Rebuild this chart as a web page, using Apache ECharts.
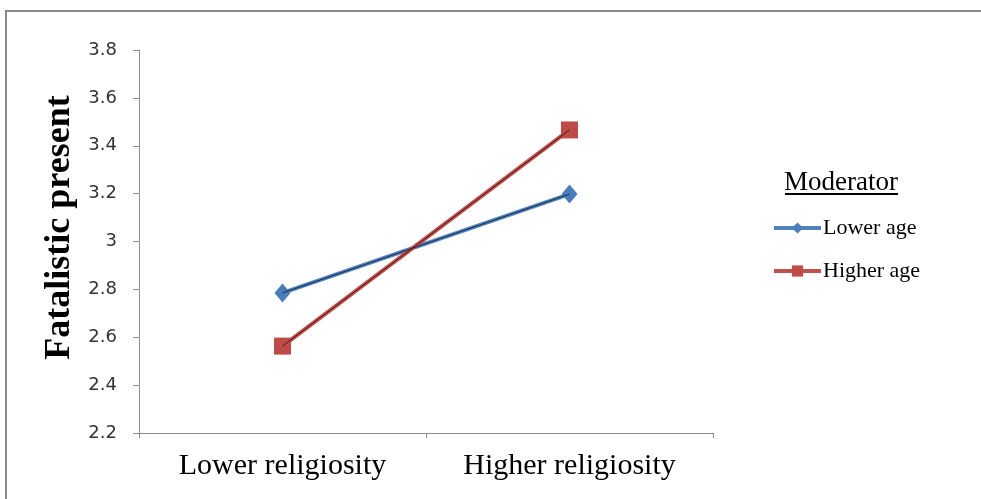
<!DOCTYPE html>
<html><head><meta charset="utf-8">
<script src="https://cdn.jsdelivr.net/npm/echarts@6/dist/echarts.min.js"></script>
<style>html,body{margin:0;padding:0;background:#fff}#c{width:981px;height:499px}</style>
</head><body><div id="c"></div>
<script>
const categories = ['Lower religiosity', 'Higher religiosity'];
const lowerAge = [2.785, 3.198];
const higherAge = [2.563, 3.466];
const seriesNames = ['Lower age', 'Higher age'];
const yTicks = {min: 2.2, max: 3.8, interval: 0.2};

const chart = echarts.init(document.getElementById('c'), null, {renderer: 'canvas'});
const serif = '"Liberation Serif", "Times New Roman", serif';
const sans = '"DejaVu Sans", Tahoma, sans-serif';
chart.setOption({
  animation: false,
  backgroundColor: '#fff',
  grid: {left: 139, right: 268, top: 50, bottom: 66, containLabel: false},
  xAxis: {
    type: 'category', data: categories, boundaryGap: true,
    axisLine: {lineStyle: {color: '#8c8c8c', width: 1}},
    axisTick: {show: true, length: 5, lineStyle: {color: '#8c8c8c'}},
    axisLabel: {fontFamily: serif, fontSize: 30, color: '#000', margin: 18}
  },
  yAxis: {
    type: 'value', min: yTicks.min, max: yTicks.max, interval: yTicks.interval,
    name: 'Fatalistic present', nameLocation: 'middle', nameGap: 60, nameRotate: 90,
    nameTextStyle: {fontFamily: serif, fontSize: 36, fontWeight: 'bold', color: '#000', padding: [0, 0, 0, 28]},
    splitLine: {show: false},
    axisLine: {show: true, lineStyle: {color: '#8c8c8c', width: 1}},
    axisTick: {show: true, length: 6, lineStyle: {color: '#8c8c8c'}},
    axisLabel: {fontFamily: sans, fontSize: 18, color: '#333', margin: 22,
      formatter: v => (Math.round(v * 10) / 10).toString()}
  },
  legend: {
    orient: 'vertical', left: 772, top: 217, padding: 0, itemWidth: 47, itemHeight: 14, itemGap: 21,
    data: seriesNames.map(n => ({name: n, lineStyle: {width: 4}})),
    textStyle: {fontFamily: serif, fontSize: 22, color: '#000', padding: [0, 0, 0, -3]}
  },
  series: [
    {name: seriesNames[0], type: 'line', data: lowerAge, symbol: 'diamond', symbolSize: [16, 19],
     lineStyle: {color: '#4F81BD', width: 4}, itemStyle: {color: '#4A7EBB'}, z: 3},
    {name: seriesNames[1], type: 'line', data: higherAge, symbol: 'rect', symbolSize: 17,
     lineStyle: {color: '#C0504D', width: 4}, itemStyle: {color: '#BE4B48'}, z: 3},
    {name: 'trend1', type: 'line', data: lowerAge, symbol: 'none', silent: true,
     lineStyle: {color: '#15233a', width: 0.9}, z: 4},
    {name: 'trend2', type: 'line', data: higherAge, symbol: 'none', silent: true,
     lineStyle: {color: '#3a1210', width: 0.9}, z: 4}
  ],
  graphic: [
    {type: 'rect', shape: {x: 6, y: 11, width: 1000, height: 600}, style: {fill: 'none', stroke: '#8a8a8a', lineWidth: 2}, z: -1},
    {type: 'text', left: 784, top: 169, style: {text: 'Moderator', font: '27px ' + serif, fill: '#000'}},
    {type: 'rect', shape: {x: 785, y: 193, width: 113, height: 2}, style: {fill: '#000'}}
  ]
});
</script></body></html>
